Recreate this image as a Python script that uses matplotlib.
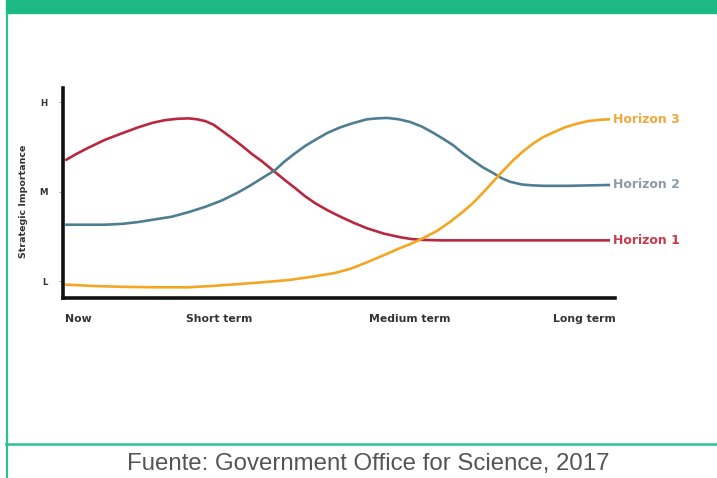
import matplotlib.pyplot as plt
from matplotlib.patches import Rectangle
from matplotlib.lines import Line2D

# time axis: 0 = now, 100 = long term ; importance: L=0, M=1, H=2
h1_t = [0, 2.0, 4.2, 7.3, 10.3, 13.4, 16.0, 18.3, 20.5, 22.6, 24.2, 25.7, 27.2, 28.8,
        30.6, 32.5, 34.3, 36.1, 38.5, 40.3, 42.2, 44.0, 45.9, 48.2, 50.5, 53.0, 55.4,
        58.5, 61.5, 63.5, 65.7, 69.0, 73.8, 100]
h1_v = [1.35, 1.42, 1.49, 1.58, 1.65, 1.72, 1.77, 1.80, 1.815, 1.82, 1.81, 1.79, 1.75, 1.68,
        1.60, 1.51, 1.42, 1.34, 1.22, 1.13, 1.04, 0.95, 0.87, 0.79, 0.72, 0.65, 0.59,
        0.53, 0.49, 0.47, 0.46, 0.455, 0.455, 0.455]

h2_t = [0, 3.5, 7.3, 10.5, 13.4, 16.5, 19.6, 22.6, 25.7, 28.7, 31.7, 34.0, 36.1, 38.5,
        40.3, 42.2, 44.0, 45.9, 48.2, 50.5, 53.0, 55.4, 57.3, 59.1, 61.2, 63.3, 65.4,
        67.5, 69.4, 71.2, 73.0, 74.8, 76.7, 78.5, 80.1, 81.7, 83.8, 85.9, 88.0, 92.1, 100]
h2_v = [0.63, 0.63, 0.63, 0.64, 0.66, 0.69, 0.72, 0.77, 0.83, 0.90, 0.99, 1.07, 1.15, 1.24,
        1.34, 1.43, 1.51, 1.58, 1.66, 1.72, 1.77, 1.81, 1.82, 1.825, 1.81, 1.78, 1.73,
        1.66, 1.59, 1.52, 1.43, 1.35, 1.27, 1.21, 1.15, 1.11, 1.08, 1.07, 1.065, 1.065, 1.075]

h3_t = [0, 5.0, 10.5, 16.5, 22.6, 27.0, 31.7, 36.0, 40.9, 45.0, 49.5, 52.5, 55.4, 58.5,
        61.5, 63.6, 65.7, 68.2, 70.6, 72.7, 74.8, 76.7, 78.5, 80.3, 82.2, 84.0, 85.9,
        87.7, 89.5, 91.7, 93.9, 96.0, 98.2, 100]
h3_v = [-0.04, -0.055, -0.065, -0.07, -0.07, -0.055, -0.035, -0.015, 0.01, 0.045, 0.09, 0.14,
        0.21, 0.29, 0.37, 0.42, 0.48, 0.56, 0.66, 0.76, 0.87, 0.99, 1.11, 1.23, 1.35, 1.45,
        1.54, 1.61, 1.66, 1.72, 1.76, 1.79, 1.805, 1.81]

series = [
    ('Horizon 1', h1_t, h1_v, '#B8283F', '#C83A4C'),
    ('Horizon 2', h2_t, h2_v, '#4F7E92', '#8E9BA6'),
    ('Horizon 3', h3_t, h3_v, '#F4A623', '#F0A93A'),
]

y_ticks = [0, 1, 2]
y_tick_labels = ['L', 'M', 'H']
x_labels = ['Now', 'Short term', 'Medium term', 'Long term']
x_label_pos = [2.5, 28.2, 63.2, 95.2]

W, H = 717, 478
fig = plt.figure(figsize=(W / 100, H / 100), dpi=100)
green = '#1DB985'

# frame around the figure
fig.patches.append(Rectangle((6 / W, 1 - 13 / H), 1, 13 / H, transform=fig.transFigure,
                             color=green, zorder=0))
fig.lines.append(Line2D([7 / W, 7 / W], [0, 1 - 13 / H], transform=fig.transFigure,
                        color='#2EC08F', lw=1.6))
fig.lines.append(Line2D([6 / W, 1], [1 - 444 / H, 1 - 444 / H], transform=fig.transFigure,
                        color='#2EC08F', lw=1.8))
fig.text(368 / W, 1 - 464 / H, 'Fuente: Government Office for Science, 2017',
         ha='center', va='center', fontsize=17.3, color='#555555',
         family='Liberation Sans')

ax = fig.add_axes([63 / W, 1 - 298 / H, (615 - 63) / W, (298 - 88) / H])
for name, t, v, c, tc in series:
    ax.plot(t, v, color=c, lw=1.9, solid_capstyle='butt', solid_joinstyle='round')
    ax.text(100.6, v[-1], name, color=tc, fontsize=9, fontweight='bold',
            va='center', ha='left', clip_on=False)

ax.set_xlim(-0.4, 100.9)
ax.set_ylim(-0.19, 2.16)
for s in ['top', 'right']:
    ax.spines[s].set_visible(False)
for s in ['left', 'bottom']:
    ax.spines[s].set_linewidth(2.6)
    ax.spines[s].set_color('#111111')

ax.set_yticks(y_ticks)
ax.set_yticklabels(y_tick_labels, fontsize=6.2, fontweight='bold', color='#333333')
ax.tick_params(axis='y', length=3, width=0.6, color='#999999', pad=8)
ax.set_xticks([])
for lab, x in zip(x_labels, x_label_pos):
    ax.text(x, -0.43, lab, fontsize=7.8, fontweight='bold', color='#333333',
            ha='center', va='center', clip_on=False)

fig.text(24 / W, 1 - 201 / H, 'Strategic Importance', rotation=90, ha='center',
         va='center', fontsize=6.8, fontweight='bold', color='#333333')

fig.savefig('out.png', dpi=100)
